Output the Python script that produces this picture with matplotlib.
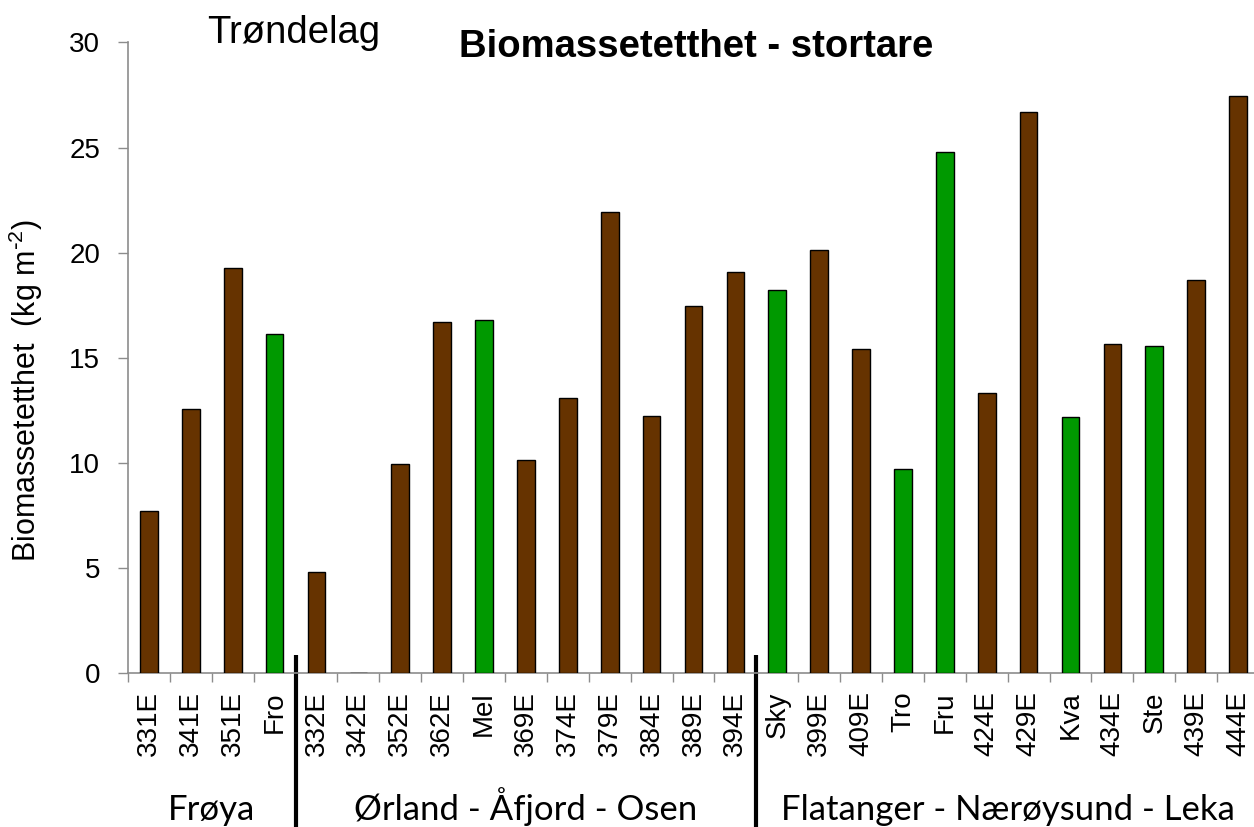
import numpy as np
import matplotlib.pyplot as plt
from matplotlib import transforms

# Data
sites = ['331E', '341E', '351E', 'Fro',
         '332E', '342E', '352E', '362E', 'Mel', '369E', '374E', '379E', '384E', '389E', '394E',
         'Sky', '399E', '409E', 'Tro', 'Fru', '424E', '429E', 'Kva', '434E', 'Ste', '439E', '444E']
biomass = [7.74, 12.57, 19.28, 16.12,
           4.81, 0.0, 9.94, 16.72, 16.79, 10.16, 13.10, 21.93, 12.25, 17.47, 19.07,
           18.23, 20.12, 15.44, 9.72, 24.79, 13.33, 26.68, 12.18, 15.66, 15.58, 18.69, 27.47]
reference_sites = ['Fro', 'Mel', 'Sky', 'Tro', 'Fru', 'Kva', 'Ste']
groups = ['Frøya', 'Ørland - Åfjord - Osen', 'Flatanger - Nærøysund - Leka']
group_sizes = [4, 11, 12]
y_ticks = [0, 5, 10, 15, 20, 25, 30]

plt.rcParams['font.family'] = ['Liberation Sans', 'DejaVu Sans']
plt.rcParams['mathtext.default'] = 'regular'

brown = '#663300'
green = '#009900'
grey = '#8c8c8c'


def main():
    fig = plt.figure(figsize=(12.54, 8.27), dpi=100)
    ax = fig.add_axes([128 / 1254, (827 - 673.4) / 827, 1131 / 1254, 631 / 827])

    x = np.arange(len(sites))
    colors = [green if s in reference_sites else brown for s in sites]
    ax.bar(x, biomass, width=0.42, color=colors, edgecolor='black', linewidth=1.0, zorder=3)

    ax.set_xlim(-0.5, len(sites) - 0.5)
    ax.set_ylim(0, 30)
    ax.set_yticks(y_ticks)

    # category labels at centres, tick marks at the boundaries
    ax.set_xticks(x)
    ax.set_xticklabels(sites, rotation=90, fontsize=20)
    ax.set_xticks(np.arange(-0.5, len(sites) + 0.5, 1), minor=True)
    ax.tick_params(axis='x', which='major', length=0, pad=13)
    ax.tick_params(axis='x', which='minor', length=6.5, width=1, color=grey)
    ax.tick_params(axis='y', length=7, width=1, color=grey, labelsize=20, pad=13)

    for side in ['top', 'right']:
        ax.spines[side].set_visible(False)
    for side in ['left', 'bottom']:
        ax.spines[side].set_color(grey)
        ax.spines[side].set_linewidth(1.2)

    # group separators and group names below the axis
    trans = transforms.blended_transform_factory(ax.transData, ax.transAxes)
    edges = np.cumsum([0] + group_sizes) - 0.5
    for b in edges[1:-1]:
        ax.plot([b, b], [0.029, -0.26], transform=trans, color='black',
                linewidth=3, clip_on=False, solid_capstyle='butt')
    trans_fig = transforms.blended_transform_factory(ax.transData, fig.transFigure)
    for name, lo, hi in zip(groups, edges[:-1], edges[1:]):
        ax.text((lo + hi) / 2, (827 - 820) / 827, name, transform=trans_fig,
                ha='center', va='baseline', fontsize=25, family=['Lato', 'DejaVu Sans'])

    fig.text(696 / 1254, 1 - 57 / 827, 'Biomassetetthet - stortare', ha='center',
             va='baseline', fontsize=27.5, fontweight='bold')
    fig.text(207 / 1254, 1 - 43 / 827, 'Trøndelag', ha='left', va='baseline', fontsize=27.5)
    fig.text(26 / 1254, 1 - 391 / 827, r'Biomassetetthet  (kg m$^{\text{-}2}$)', rotation=90,
             ha='center', va='center', fontsize=22)

    fig.savefig('out.png', dpi=100)


if __name__ == '__main__':
    main()
